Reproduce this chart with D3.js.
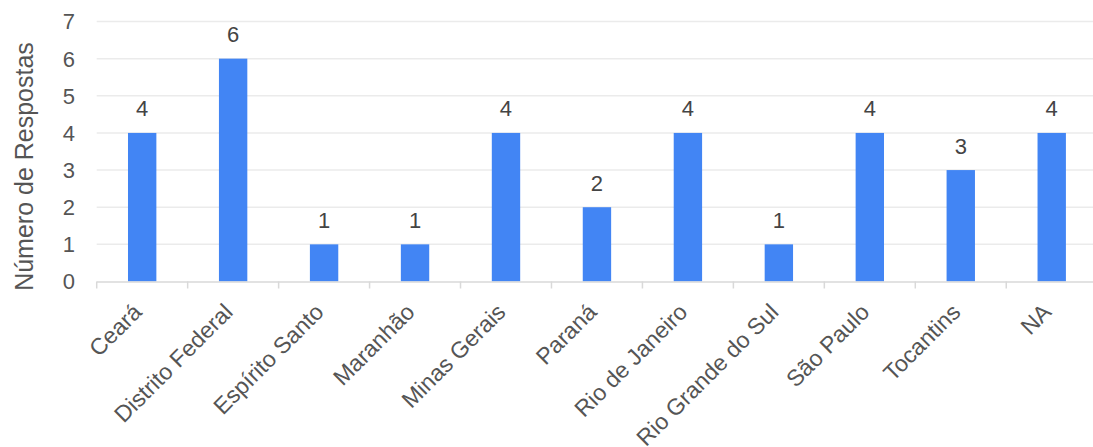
<!DOCTYPE html>
<html>
<head>
<meta charset="utf-8">
<script src="https://cdn.jsdelivr.net/npm/d3@7"></script>
<style>
  html, body { margin: 0; padding: 0; background: #fff; }
  svg { display: block; font-family: "Liberation Sans", Arial, sans-serif; }
</style>
</head>
<body>
<svg id="chart" width="1093" height="447"></svg>
<script>
// Respostas por estado
const estados = ["Ceará", "Distrito Federal", "Espírito Santo", "Maranhão", "Minas Gerais",
  "Paraná", "Rio de Janeiro", "Rio Grande do Sul", "São Paulo", "Tocantins", "NA"];
const respostas = [4, 6, 1, 1, 4, 2, 4, 1, 4, 3, 4];
const yTicks = [0, 1, 2, 3, 4, 5, 6, 7];
const yTitle = "Número de Respostas";

const svg = d3.select("#chart");
const plotLeft = 96.7, plotRight = 1097.2, plotTop = 21.5, plotBottom = 281.5;

const x = d3.scaleBand().domain(estados).range([plotLeft, plotRight]).paddingInner(0).paddingOuter(0);
const y = d3.scaleLinear().domain([0, 7]).range([plotBottom, plotTop]);

// grid lines
svg.append("g").selectAll("line").data(yTicks.filter(d => d > 0)).join("line")
  .attr("x1", plotLeft).attr("x2", 1093)
  .attr("y1", d => y(d)).attr("y2", d => y(d))
  .attr("stroke", "#ebebeb").attr("stroke-width", 1.5);

// y tick labels
svg.append("g").selectAll("text").data(yTicks).join("text")
  .attr("x", 75).attr("y", d => y(d)).attr("dy", "0.36em")
  .attr("text-anchor", "end").attr("font-size", 22).attr("fill", "#555")
  .text(d => d);

// y axis title
svg.append("text")
  .attr("transform", `translate(33,166.5) rotate(-90)`)
  .attr("text-anchor", "middle").attr("font-size", 25).attr("fill", "#555")
  .text(yTitle);

// bars
const barW = x.bandwidth() * 0.312;
svg.append("g").selectAll("rect").data(estados).join("rect")
  .attr("x", d => x(d) + x.bandwidth() / 2 - barW / 2)
  .attr("y", (d, i) => y(respostas[i]))
  .attr("width", barW)
  .attr("height", (d, i) => y(0) - y(respostas[i]))
  .attr("fill", "#4285f4");

// value labels
svg.append("g").selectAll("text").data(estados).join("text")
  .attr("x", d => x(d) + x.bandwidth() / 2)
  .attr("y", (d, i) => y(respostas[i]) - 16.5)
  .attr("text-anchor", "middle").attr("font-size", 22).attr("fill", "#444")
  .text((d, i) => respostas[i]);

// x axis baseline and ticks
const ax = svg.append("g");
ax.append("line").attr("x1", plotLeft).attr("x2", 1093)
  .attr("y1", plotBottom + 0.5).attr("y2", plotBottom + 0.5)
  .attr("stroke", "#d9d9d9").attr("stroke-width", 1.5);
ax.selectAll("line.tk").data(estados).join("line").attr("class", "tk")
  .attr("x1", d => x(d)).attr("x2", d => x(d))
  .attr("y1", plotBottom).attr("y2", plotBottom + 7)
  .attr("stroke", "#d9d9d9").attr("stroke-width", 1.5);

// rotated category labels
ax.selectAll("text").data(estados).join("text")
  .attr("transform", d => `translate(${x(d) + x.bandwidth() / 2 + 1},${plotBottom + 32}) rotate(-45)`)
  .attr("text-anchor", "end").attr("font-size", 23).attr("fill", "#555")
  .text(d => d);
</script>
</body>
</html>
